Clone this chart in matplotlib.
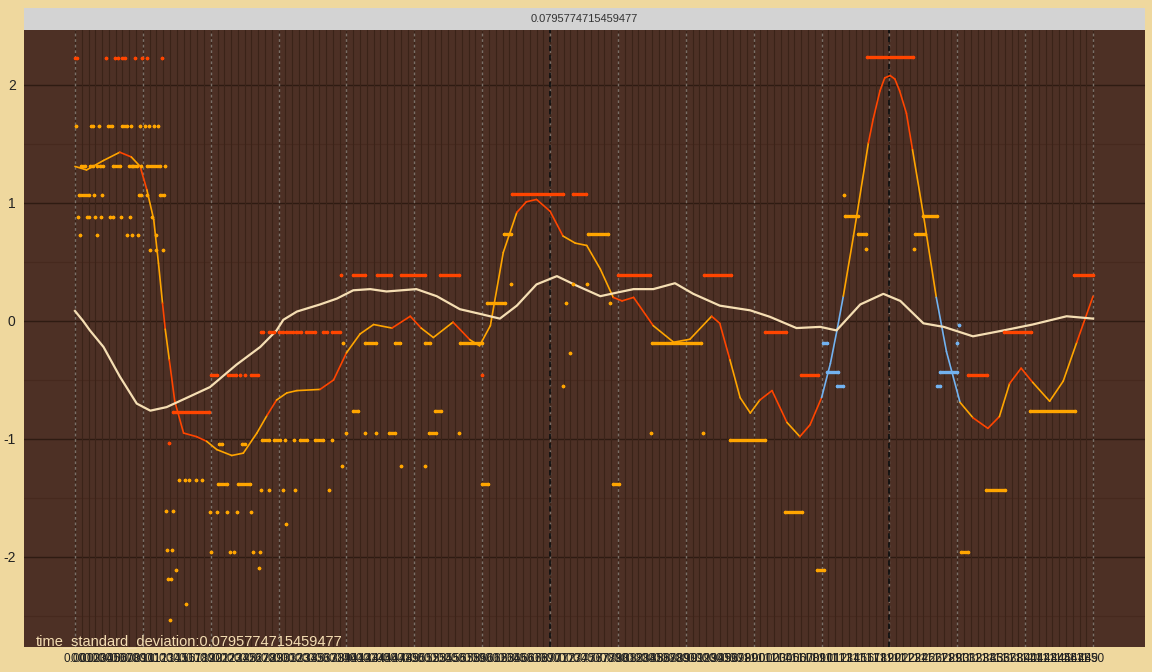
import matplotlib
matplotlib.use("Agg")
import matplotlib.pyplot as plt
from matplotlib.collections import LineCollection

plt.rcParams["font.family"] = ["Liberation Sans", "DejaVu Sans"]
plt.rcParams["axes.unicode_minus"] = False

WHEAT = "#EFD89E"
PANEL = "#4D3025"
ORANGE = "#FFA500"
RED = "#FF4500"
BLUE = "#72B2F0"
CREAM = "#F5DEB3"

# time steps on the x axis and their labels
steps = list(range(151))
tick_labels = [f"{s / 100:.2f}" for s in steps]
y_ticks = [-2, -1, 0, 1, 2]
sigma_text = "0.0795774715459477"

# fitted curve (x, y) and the colour of the segment that starts at each point
fit_x = [0, 1.7, 4.2, 6.6, 8.3, 9.6, 10.6, 11.6, 12.3, 12.9,
         13.3, 13.9, 14.7, 16.0, 17.9, 19.4, 20.9, 23.1, 24.8, 26.8,
         28.3, 29.7, 31.2, 32.7, 36.1, 38.1, 40.0, 42.0, 44.0, 46.7,
         49.4, 51.0, 52.8, 55.7, 58.2, 59.6, 61.2, 63.1, 65.1, 66.5,
         68.0, 70.0, 71.9, 73.7, 75.4, 77.4, 79.3, 80.6, 82.3, 85.2,
         88.2, 90.6, 93.8, 95.0, 96.5, 98.0, 99.5, 100.9, 102.7, 104.9,
         106.8, 108.3, 110.0, 111.3, 112.3, 113.2, 114.7, 116.9, 117.6, 118.6,
         119.3, 120.1, 120.8, 121.5, 122.5, 123.4, 125.0, 126.9, 128.4, 130.4,
         132.3, 134.5, 136.2, 137.7, 139.4, 141.1, 143.6, 145.6, 147.6, 150.0]
fit_y = [1.31, 1.28, 1.36, 1.43, 1.39, 1.31, 1.11, 0.86, 0.49, 0.15,
         -0.07, -0.33, -0.68, -0.95, -0.98, -1.02, -1.09, -1.14, -1.12, -0.95,
         -0.80, -0.67, -0.61, -0.59, -0.58, -0.50, -0.27, -0.11, -0.03, -0.06,
         0.04, -0.06, -0.14, -0.01, -0.16, -0.21, -0.04, 0.58, 0.92, 1.01,
         1.03, 0.93, 0.72, 0.66, 0.64, 0.44, 0.20, 0.17, 0.20, -0.04,
         -0.18, -0.155, 0.04, -0.02, -0.33, -0.65, -0.78, -0.67, -0.59, -0.86,
         -0.98, -0.88, -0.65, -0.36, -0.07, 0.21, 0.72, 1.51, 1.71, 1.95,
         2.06, 2.08, 2.05, 1.95, 1.76, 1.45, 0.90, 0.20, -0.26, -0.69,
         -0.82, -0.91, -0.81, -0.53, -0.40, -0.52, -0.68, -0.51, -0.18, 0.21]
fit_seg = list("ooororooor" "orrrrooooo" "rooorrooor" "rooroooorr" "rroooorrro"
               "oorrooorro" "rrbbboorrr" "rrrrroobbo" "rrorroooro")

# smoothed mean curve
mean_x = [0, 1.2, 2.2, 4.2, 6.6, 9.1, 11.1, 13.5, 16.9, 19.9, 23.8, 27.3, 29.7, 30.7, 32.7,
          36.1, 38.6, 41.0, 43.5, 45.9, 50.3, 53.3, 56.7, 59.7, 62.6, 65.1, 68.0, 71.0,
          73.9, 77.4, 79.8, 82.3, 85.2, 88.4, 91.1, 95.0, 99.5, 102.4, 106.3, 109.8,
          112.2, 115.7, 119.1, 121.6, 125.0, 128.0, 132.3, 136.8, 141.1, 146.1, 150.0]
mean_y = [0.085, 0.0, -0.08, -0.22, -0.47, -0.70, -0.76, -0.73, -0.64, -0.56, -0.37,
          -0.22, -0.08, 0.01, 0.08, 0.14, 0.19, 0.26, 0.27, 0.25, 0.27, 0.21, 0.10, 0.06,
          0.02, 0.13, 0.31, 0.38, 0.30, 0.21, 0.24, 0.27, 0.27, 0.32, 0.23, 0.13, 0.09,
          0.035, -0.06, -0.05, -0.08, 0.14, 0.23, 0.17, -0.02, -0.05, -0.13, -0.08,
          -0.03, 0.04, 0.02]

# observations: (y, x start, x end) runs of samples
red_obs = [
    (2.23, 0.0, 0.3), (2.23, 4.5, 4.5), (2.23, 5.9, 5.9), (2.23, 6.4, 6.4), (2.23, 7.0, 7.4),
    (2.23, 8.9, 8.9), (2.23, 9.9, 9.9), (2.23, 10.6, 10.6), (2.23, 12.8, 12.8),
    (2.24, 116.7, 123.5),
    (1.08, 64.4, 71.9), (1.08, 73.4, 75.3),
    (0.39, 39.2, 39.2), (0.39, 40.9, 42.7), (0.39, 44.5, 46.5), (0.39, 48.0, 51.6),
    (0.39, 53.8, 56.6), (0.39, 80.0, 84.7), (0.39, 92.7, 96.6), (0.39, 147.2, 150.0),
    (-0.09, 27.4, 27.7), (-0.09, 28.6, 29.3), (-0.09, 30.1, 30.6), (-0.09, 31.1, 32.1),
    (-0.09, 32.5, 33.3), (-0.09, 34.1, 35.4), (-0.09, 36.5, 37.2), (-0.09, 37.9, 39.1),
    (-0.09, 101.6, 104.7), (-0.09, 136.9, 140.8),
    (-0.46, 20.1, 20.9), (-0.46, 22.6, 23.7), (-0.46, 24.3, 24.3), (-0.46, 25.0, 25.0),
    (-0.46, 26.0, 27.0), (-0.46, 60.0, 60.0), (-0.46, 107.0, 109.4), (-0.46, 131.5, 134.3),
    (-0.77, 14.5, 19.8),
    (-1.03, 13.8, 13.8),
]
blue_obs = [
    (-0.03, 130.3, 130.3),
    (-0.19, 110.2, 110.8), (-0.19, 130.0, 130.0),
    (-0.43, 110.8, 112.4), (-0.43, 127.4, 130.0),
    (-0.555, 112.3, 113.1), (-0.555, 127.0, 127.5),
]
orange_obs = [
    (1.65, 0.15, 0.15), (1.65, 2.3, 2.6), (1.65, 3.6, 3.6), (1.65, 4.8, 5.4), (1.65, 7.0, 7.6),
    (1.65, 8.3, 8.3), (1.65, 9.6, 9.6), (1.65, 10.3, 10.3), (1.65, 10.9, 10.9),
    (1.65, 11.6, 11.6), (1.65, 12.3, 12.3),
    (1.31, 0.9, 1.5), (1.31, 2.2, 2.7), (1.31, 3.2, 3.2), (1.31, 3.7, 4.2), (1.31, 5.6, 6.6),
    (1.31, 7.9, 8.4), (1.31, 8.6, 9.1), (1.31, 9.8, 9.8), (1.31, 10.6, 12.5), (1.31, 13.3, 13.3),
    (1.07, 0.6, 2.0), (1.07, 2.8, 2.8), (1.07, 4.0, 4.0), (1.07, 9.4, 9.7), (1.07, 10.6, 10.6),
    (1.07, 12.6, 13.1), (1.07, 113.3, 113.3),
    (0.88, 0.5, 0.5), (0.88, 1.8, 2.1), (0.88, 3.0, 3.0), (0.88, 3.9, 3.9), (0.88, 5.2, 5.2),
    (0.88, 5.6, 5.6), (0.88, 6.8, 6.8), (0.88, 8.1, 8.1), (0.88, 11.3, 11.3),
    (0.89, 113.5, 115.4), (0.89, 125.0, 127.0),
    (0.73, 0.74, 0.74), (0.73, 3.3, 3.3), (0.73, 7.7, 7.7), (0.73, 8.4, 8.4), (0.73, 9.3, 9.3),
    (0.73, 11.9, 11.9),
    (0.74, 63.2, 64.2), (0.74, 75.6, 78.6), (0.74, 115.3, 116.6), (0.74, 123.7, 125.2),
    (0.60, 11.1, 11.1), (0.60, 12.0, 12.0), (0.60, 12.9, 12.9),
    (0.61, 116.6, 116.6), (0.61, 123.6, 123.6),
    (0.31, 64.3, 64.3), (0.31, 73.4, 73.4), (0.31, 75.4, 75.4),
    (0.155, 60.7, 63.4), (0.155, 72.3, 72.3), (0.155, 78.8, 78.8),
    (-0.19, 39.5, 39.5), (-0.19, 42.7, 44.4), (-0.19, 47.2, 47.9), (-0.19, 51.6, 52.3),
    (-0.19, 56.7, 59.9), (-0.19, 85.0, 92.3),
    (-0.27, 72.9, 72.9), (-0.55, 71.9, 71.9),
    (-0.765, 41.0, 41.7), (-0.765, 53.0, 53.9), (-0.765, 140.7, 147.3),
    (-0.95, 39.9, 39.9), (-0.95, 42.7, 42.7), (-0.95, 44.4, 44.4), (-0.95, 46.3, 47.2),
    (-0.95, 52.2, 53.2), (-0.95, 56.6, 56.6), (-0.95, 84.8, 84.8), (-0.95, 92.6, 92.6),
    (-1.01, 27.6, 28.6), (-1.01, 29.3, 30.2), (-1.01, 30.9, 30.9), (-1.01, 32.2, 32.2),
    (-1.01, 33.1, 34.2), (-1.01, 35.4, 36.6), (-1.01, 37.8, 37.8), (-1.01, 96.5, 101.7),
    (-1.04, 21.2, 21.7), (-1.04, 24.6, 25.0),
    (-1.23, 39.4, 39.4), (-1.23, 48.0, 48.0), (-1.23, 51.5, 51.5),
    (-1.35, 15.3, 15.3), (-1.35, 16.2, 16.2), (-1.35, 16.8, 16.8), (-1.35, 17.9, 17.9),
    (-1.35, 18.7, 18.7),
    (-1.38, 21.0, 22.4), (-1.38, 24.0, 25.8), (-1.38, 60.0, 60.9), (-1.38, 79.2, 80.1),
    (-1.43, 27.4, 27.4), (-1.43, 28.6, 28.6), (-1.43, 30.7, 30.7), (-1.43, 32.4, 32.4),
    (-1.43, 37.4, 37.4), (-1.43, 134.2, 137.0),
    (-1.61, 13.4, 13.4), (-1.61, 14.5, 14.5),
    (-1.62, 19.9, 19.9), (-1.62, 20.9, 20.9), (-1.62, 22.4, 22.4), (-1.62, 23.8, 23.8),
    (-1.62, 25.9, 25.9), (-1.62, 104.6, 107.1),
    (-1.72, 31.1, 31.1),
    (-1.94, 13.5, 13.5), (-1.94, 14.3, 14.3),
    (-1.96, 20.1, 20.1), (-1.96, 22.8, 22.8), (-1.96, 23.4, 23.4), (-1.96, 26.3, 26.3),
    (-1.96, 27.2, 27.2), (-1.96, 130.5, 131.6),
    (-2.09, 27.1, 27.1), (-2.11, 14.9, 14.9), (-2.11, 109.3, 110.3),
    (-2.19, 13.7, 13.7), (-2.19, 14.1, 14.1),
    (-2.40, 16.4, 16.4), (-2.53, 14.0, 14.0),
]

W, H = 1152, 672
fig = plt.figure(figsize=(W / 100, H / 100), dpi=100, facecolor=WHEAT)
ax = fig.add_axes([24 / W, (H - 647) / H, (1145 - 24) / W, (647 - 30) / H])
ax.set_facecolor(PANEL)
for sp in ax.spines.values():
    sp.set_visible(False)

# grid
for yy in [-2.5, -1.5, -0.5, 0.5, 1.5]:
    ax.axhline(yy, color="#46291E", lw=0.8, zorder=0.3)
for yy in y_ticks:
    ax.axhline(yy, color="#2E1B12", lw=1.0, zorder=0.4)
for s in steps:
    ax.axvline(s, color="#3A2318", lw=0.8, zorder=0.5)
for s in steps[::10]:
    ax.axvline(s, color="#7A7068", lw=1.0, ls=(0, (2, 2)), zorder=0.6)
for s in (70, 120):
    ax.axvline(s, color="#111111", lw=1.3, ls=(0, (3, 2)), zorder=0.7)

# fitted curve, coloured by segment
cmap = {"o": ORANGE, "r": RED, "b": BLUE}
segs = [[(fit_x[k], fit_y[k]), (fit_x[k + 1], fit_y[k + 1])] for k in range(len(fit_x) - 1)]
cols = [cmap[fit_seg[k]] for k in range(len(segs))]
ax.add_collection(LineCollection(segs, colors=cols, linewidths=1.2, zorder=2,
                                 capstyle="round", joinstyle="round"))

ax.plot(mean_x, mean_y, color=CREAM, lw=1.6, zorder=3, solid_joinstyle="round")

# observations
for obs, c in ((orange_obs, ORANGE), (red_obs, RED), (blue_obs, BLUE)):
    ys = [o[0] for o in obs]
    x0 = [o[1] for o in obs]
    x1 = [o[2] for o in obs]
    ax.hlines(ys, x0, x1, colors=c, lw=2.4, capstyle="round", zorder=4)
    ax.scatter(x0 + x1, ys + ys, s=6.5, color=c, linewidths=0, zorder=4)

ax.set_xlim(-7.51, 157.65)
ax.set_ylim(-2.763, 2.466)
ax.set_xticks(steps)
ax.set_xticklabels(tick_labels, fontsize=8.5, color="#222222")
ax.set_yticks(y_ticks)
ax.set_yticklabels([str(v) for v in y_ticks], fontsize=10, color="#222222")
ax.tick_params(axis="both", length=0)
ax.tick_params(axis="x", pad=4)
ax.tick_params(axis="y", pad=6)

# title strip
strip = fig.add_axes([24 / W, (H - 30) / H, (1145 - 24) / W, 22 / H])
strip.set_facecolor("#D3D3D3")
strip.set_xticks([])
strip.set_yticks([])
for sp in strip.spines.values():
    sp.set_visible(False)
strip.text(0.5, 0.5, sigma_text, ha="center", va="center", fontsize=8, color="#333333",
           transform=strip.transAxes)

fig.text(36 / W, (H - 645) / H, "time_standard_deviation:" + sigma_text,
         fontsize=10.5, color=CREAM, ha="left", va="baseline")

fig.savefig("out.png", dpi=100, facecolor=WHEAT)
